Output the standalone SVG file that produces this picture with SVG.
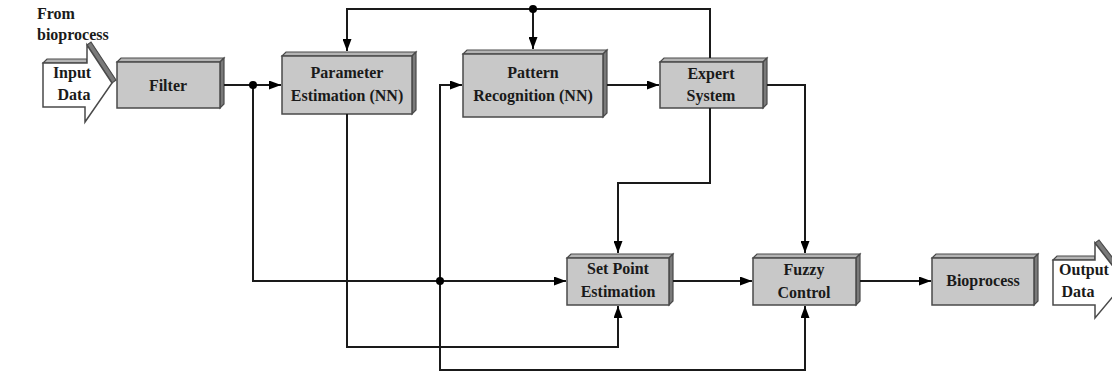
<svg xmlns="http://www.w3.org/2000/svg" width="1112" height="374" viewBox="0 0 1112 374">
<defs>
<style>
.front{fill:#c8c8c8;stroke:#4a4a4a;stroke-width:1.5}
.top{fill:#b4b4b4;stroke:#4a4a4a;stroke-width:1.2}
.side{fill:#7a7a7a;stroke:#4a4a4a;stroke-width:1.2}
.arrowbody{fill:#ffffff;stroke:#4a4a4a;stroke-width:1.5}
.t{font-family:"Liberation Serif","Times New Roman",serif;font-weight:bold;font-size:16px;fill:#1a1a1a;text-anchor:middle}
.tl{font-family:"Liberation Serif","Times New Roman",serif;font-weight:bold;font-size:16px;fill:#1a1a1a}
.c{fill:none;stroke:#1a1a1a;stroke-width:2}
.dot{fill:#000}
</style>
<marker id="ah" markerUnits="userSpaceOnUse" markerWidth="13" markerHeight="9" refX="12" refY="4.5" orient="auto">
<path d="M0,0 L12,4.5 L0,9 z" fill="#000"/>
</marker>
</defs>

<text class="tl" x="37" y="19">From</text>
<text class="tl" x="37" y="40">bioprocess</text>

<g id="input-data">
<polygon class="top" points="43,63 47,59 87,59 87,63"/>
<polygon class="side" points="87,45 91,42 116,80 112,83"/>
<polygon class="arrowbody" points="43,63 87,63 87,45 112,83 85,122 85,107 43,107"/>
<text class="t" x="72" y="78">Input</text>
<text class="t" x="74" y="100">Data</text>
</g>

<g id="filter">
<polygon class="top" points="117,62 121,58 224,58 220,62"/>
<polygon class="side" points="220,62 224,58 224,104 220,108"/>
<rect class="front" x="117" y="62" width="103" height="46"/>
<text class="t" x="168" y="91">Filter</text>
</g>

<g id="parameter-estimation">
<polygon class="top" points="282,56 286,52 416,52 412,56"/>
<polygon class="side" points="412,56 416,52 416,110 412,114"/>
<rect class="front" x="282" y="56" width="130" height="58"/>
<text class="t" x="347" y="78">Parameter</text>
<text class="t" x="347" y="101">Estimation (NN)</text>
</g>

<g id="pattern-recognition">
<polygon class="top" points="463,54 467,50 607,50 603,54"/>
<polygon class="side" points="603,54 607,50 607,113 603,117"/>
<rect class="front" x="463" y="54" width="140" height="63"/>
<text class="t" x="533" y="78">Pattern</text>
<text class="t" x="533" y="101">Recognition (NN)</text>
</g>

<g id="expert-system">
<polygon class="top" points="660,62 664,58 767,58 763,62"/>
<polygon class="side" points="763,62 767,58 767,104 763,108"/>
<rect class="front" x="660" y="62" width="103" height="46"/>
<text class="t" x="711" y="79">Expert</text>
<text class="t" x="711" y="101">System</text>
</g>

<g id="set-point-estimation">
<polygon class="top" points="567,258 571,254 673,254 669,258"/>
<polygon class="side" points="669,258 673,254 673,301 669,305"/>
<rect class="front" x="567" y="258" width="102" height="47"/>
<text class="t" x="618" y="274">Set Point</text>
<text class="t" x="618" y="297">Estimation</text>
</g>

<g id="fuzzy-control">
<polygon class="top" points="753,258 757,254 860,254 856,258"/>
<polygon class="side" points="856,258 860,254 860,301 856,305"/>
<rect class="front" x="753" y="258" width="103" height="47"/>
<text class="t" x="804" y="275">Fuzzy</text>
<text class="t" x="804" y="298">Control</text>
</g>

<g id="bioprocess">
<polygon class="top" points="932,258 936,254 1038,254 1034,258"/>
<polygon class="side" points="1034,258 1038,254 1038,301 1034,305"/>
<rect class="front" x="932" y="258" width="102" height="47"/>
<text class="t" x="983" y="286">Bioprocess</text>
</g>

<g id="output-data">
<polygon class="top" points="1053,260 1057,256 1095,256 1095,260"/>
<polygon class="side" points="1095,243 1099,240 1129,279 1125,282"/>
<polygon class="arrowbody" points="1053,260 1095,260 1095,243 1125,282 1095,318 1095,305 1053,305"/>
<text class="t" x="1084" y="275">Output</text>
<text class="t" x="1078" y="297">Data</text>
</g>

<g id="connectors">
<path class="c" d="M224,85 H281" marker-end="url(#ah)"/>
<path class="c" d="M253,85 V281 H566" marker-end="url(#ah)"/>
<path class="c" d="M710,58 V9 H347 V51" marker-end="url(#ah)"/>
<path class="c" d="M533,9 V49" marker-end="url(#ah)"/>
<path class="c" d="M347,114 V347 H618 V306" marker-end="url(#ah)"/>
<path class="c" d="M440,281 V85 H462" marker-end="url(#ah)"/>
<path class="c" d="M440,281 V370 H805 V306" marker-end="url(#ah)"/>
<path class="c" d="M607,85 H659" marker-end="url(#ah)"/>
<path class="c" d="M767,85 H805 V253" marker-end="url(#ah)"/>
<path class="c" d="M710,108 V183 H618 V253" marker-end="url(#ah)"/>
<path class="c" d="M673,281 H752" marker-end="url(#ah)"/>
<path class="c" d="M860,281 H931" marker-end="url(#ah)"/>
<circle class="dot" cx="253" cy="85" r="4"/>
<circle class="dot" cx="533" cy="9" r="4"/>
<circle class="dot" cx="440" cy="281" r="4"/>
</g>
</svg>
